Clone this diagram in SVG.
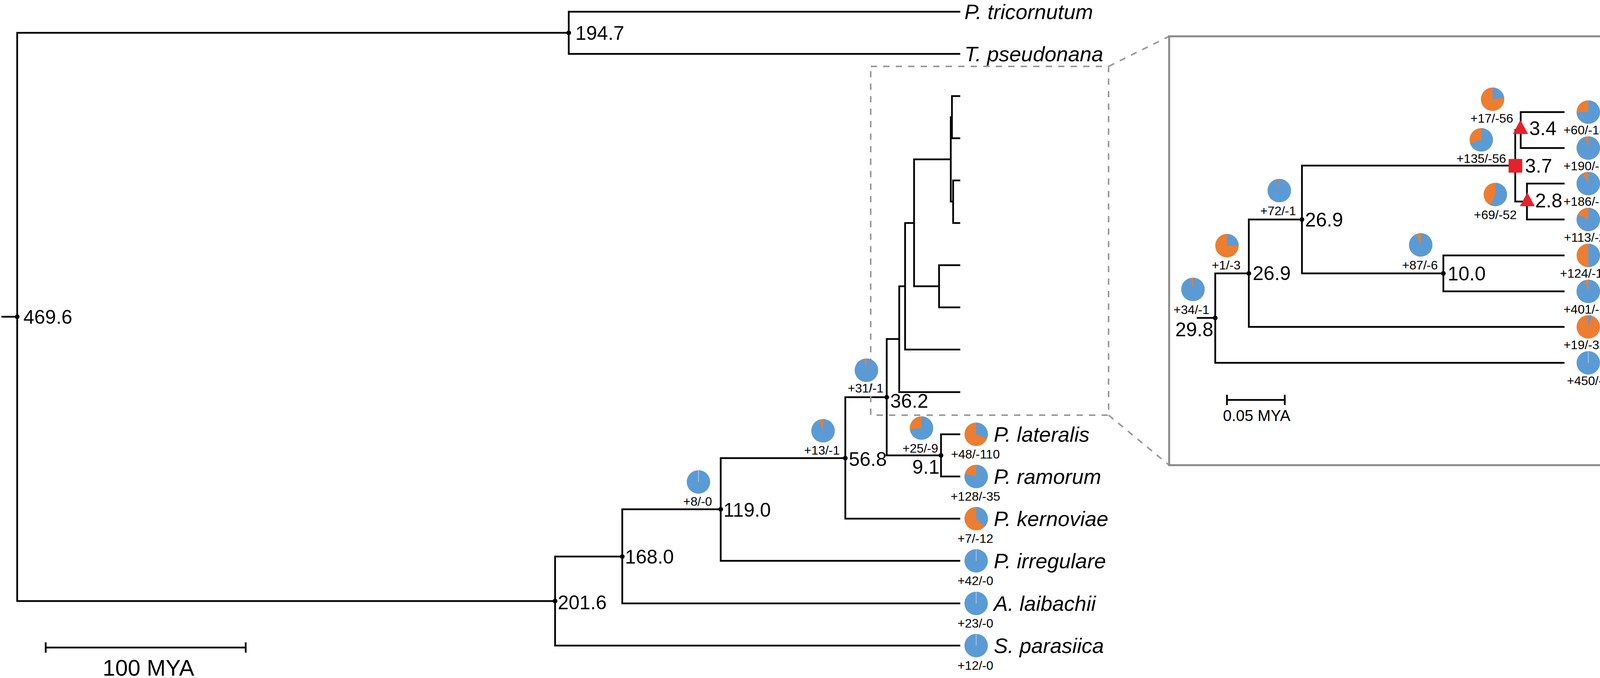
<svg xmlns="http://www.w3.org/2000/svg" width="4561" height="1736" viewBox="0 0 4561 1736">
<style>
text{font-family:"Liberation Sans",Arial,sans-serif;fill:#000}
.nl{font-size:50px}
.tl{font-size:54px;font-style:italic}
.il{font-size:54px}
.ii{font-size:54px;font-style:italic}
.ct{font-size:32px;text-anchor:middle}
.sc{font-size:58px;text-anchor:middle}
.br{fill:none;stroke:#000;stroke-width:4.5;stroke-linecap:square}
.bl{fill:#5B9BD5}
.or{fill:#ED7D31}
.sep{stroke:#A9C8EC;stroke-width:2}
.dot{fill:#000}
.red{fill:#E8202A}
.dash{fill:none;stroke:#999;stroke-width:4;stroke-dasharray:16 16}
</style>
<rect width="4561" height="1736" fill="#fff"/>
<g id="connectors">
<path class="br" d="M6,811 H44 M44,84 V1539 M44,84 H1456 M1456,30 V138 M1456,30 H2456 M1456,138 H2456 M44,1539 H1421 M1421,1425 V1653 M1421,1653 H2456 M1421,1425 H1593 M1593,1304 V1545 M1593,1545 H2456 M1593,1304 H1845 M1845,1173 V1436 M1845,1436 H2456 M1845,1173 H2164 M2164,1017 V1328 M2164,1328 H2456 M2164,1017 H2270 M2270,868 V1166 M2270,1166 H2409 M2409,1112 V1220 M2409,1112 H2456 M2409,1220 H2456 M2270,868 H2302 M2302,733 V1004 M2302,1004 H2456 M2302,733 H2317 M2317,571 V895 M2317,895 H2456 M2317,571 H2340 M2340,408 V733 M2340,733 H2404 M2404,679 V787 M2404,679 H2456 M2404,787 H2456 M2340,408 H2434 M2434,300 V516 M2434,300 H2437 M2437,246 V354 M2437,246 H2456 M2437,354 H2456 M2434,516 H2440 M2440,462 V571 M2440,462 H2456 M2440,571 H2456"/>
<path class="br" d="M3066,814 H3111 M3111,700 V929 M3111,929 H4003 M3111,700 H3197 M3197,562 V837 M3197,837 H4003 M3197,562 H3333 M3333,424 V700 M3333,700 H3695 M3695,654 V746 M3695,654 H4003 M3695,746 H4003 M3333,424 H3879 M3879,333 V516 M3879,333 H3893 M3893,287 V379 M3893,287 H4003 M3893,379 H4003 M3879,516 H3909 M3909,470 V562 M3909,470 H4003 M3909,562 H4003"/>
<rect class="dash" x="2229" y="170" width="609" height="893"/>
<path class="dash" d="M2838,170 L2993,93 M2838,1063 L2993,1191"/>
<rect x="2993" y="93" width="1558" height="1098" fill="none" stroke="#8A8A8A" stroke-width="5"/>
<path class="br" d="M117,1658 H629 M117,1647 V1669 M629,1647 V1669"/>
<path class="br" d="M3141,1024 H3289 M3141,1013 V1035 M3289,1013 V1035"/>
</g>
<g id="scale-main"><text class="sc" x="380" y="1730">100 MYA</text></g>
<g id="scale-inset"><text x="3217" y="1078" style="font-size:40px;text-anchor:middle">0.05 MYA</text></g>

<g id="node-root"><circle class="dot" cx="44" cy="811" r="6"/><text class="nl" x="60" y="829">469.6</text></g>
<g id="node-194"><circle class="dot" cx="1456" cy="84" r="6"/><text class="nl" x="1473" y="102">194.7</text></g>
<g id="node-201"><circle class="dot" cx="1421" cy="1539" r="6"/><text class="nl" x="1428" y="1560">201.6</text></g>
<g id="node-168"><circle class="dot" cx="1593" cy="1425" r="6"/><text class="nl" x="1600" y="1443">168.0</text></g>
<g id="node-119"><circle class="dot" cx="1845" cy="1304" r="6"/><text class="nl" x="1852" y="1323">119.0</text>
<g transform="translate(1788,1234)"><circle r="30" class="bl"/><line class="sep" x1="0" y1="0" x2="0" y2="-30"/></g><text class="ct" x="1786" y="1295">+8/-0</text></g>
<g id="node-56"><circle class="dot" cx="2164" cy="1173" r="6"/><text class="nl" x="2173" y="1193">56.8</text>
<g transform="translate(2107,1103)"><circle r="30" class="or"/><path class="bl" d="M0,0 L0,-30 A30,30 0 1 1 -9.27,-28.53 Z"/></g><text class="ct" x="2104" y="1164">+13/-1</text></g>
<g id="node-36"><circle class="dot" cx="2270" cy="1017" r="6"/><text class="nl" x="2279" y="1044">36.2</text>
<g transform="translate(2218,948)"><circle r="30" class="or"/><path class="bl" d="M0,0 L0,-30 A30,30 0 1 1 -5.62,-29.47 Z"/></g><text class="ct" x="2216" y="1005">+31/-1</text></g>
<g id="node-9"><circle class="dot" cx="2409" cy="1166" r="6"/><text class="nl" x="2405" y="1213" text-anchor="end">9.1</text>
<g transform="translate(2359,1096)"><circle r="30" class="or"/><path class="bl" d="M0,0 L0,-30 A30,30 0 1 1 -29.87,2.82 Z"/></g><text class="ct" x="2356" y="1159">+25/-9</text></g>

<g id="tip-tricornutum"><text class="tl" x="2469" y="49">P. tricornutum</text></g>
<g id="tip-pseudonana"><text class="tl" x="2469" y="157">T. pseudonana</text></g>
<g id="tip-lateralis"><g transform="translate(2499,1112)"><circle r="30" class="or"/><path class="bl" d="M0,0 L0,-30 A30,30 0 0 1 27.89,11.04 Z"/></g><text class="ct" x="2497" y="1174">+48/-110</text><text class="tl" x="2544" y="1131">P. lateralis</text></g>
<g id="tip-ramorum"><g transform="translate(2499,1220)"><circle r="30" class="or"/><path class="bl" d="M0,0 L0,-30 A30,30 0 1 1 -29.28,-6.54 Z"/></g><text class="ct" x="2497" y="1282">+128/-35</text><text class="tl" x="2544" y="1239">P. ramorum</text></g>
<g id="tip-kernoviae"><g transform="translate(2499,1328)"><circle r="30" class="or"/><path class="bl" d="M0,0 L0,-30 A30,30 0 0 1 21.87,20.54 Z"/></g><text class="ct" x="2497" y="1390">+7/-12</text><text class="tl" x="2544" y="1347">P. kernoviae</text></g>
<g id="tip-irregulare"><g transform="translate(2499,1436)"><circle r="30" class="bl"/><line class="sep" x1="0" y1="0" x2="0" y2="-30"/></g><text class="ct" x="2497" y="1498">+42/-0</text><text class="tl" x="2544" y="1455">P. irregulare</text></g>
<g id="tip-laibachii"><g transform="translate(2499,1545)"><circle r="30" class="bl"/><line class="sep" x1="0" y1="0" x2="0" y2="-30"/></g><text class="ct" x="2497" y="1607">+23/-0</text><text class="tl" x="2544" y="1564">A. laibachii</text></g>
<g id="tip-parasiica"><g transform="translate(2499,1653)"><circle r="30" class="bl"/><line class="sep" x1="0" y1="0" x2="0" y2="-30"/></g><text class="ct" x="2497" y="1715">+12/-0</text><text class="tl" x="2544" y="1672">S. parasiica</text></g>

<g id="inode-29"><circle class="dot" cx="3111" cy="814" r="6"/><text class="nl" x="3106" y="861" text-anchor="end">29.8</text>
<g transform="translate(3054,741)"><circle r="30" class="or"/><path class="bl" d="M0,0 L0,-30 A30,30 0 1 1 -5.62,-29.47 Z"/></g><text class="ct" x="3050" y="804">+34/-1</text></g>
<g id="inode-26a"><circle class="dot" cx="3197" cy="700" r="6"/><text class="nl" x="3207" y="717">26.9</text>
<g transform="translate(3141,629)"><circle r="30" class="or"/><path class="bl" d="M0,0 L0,-30 A30,30 0 0 1 30,0 Z"/></g><text class="ct" x="3139" y="690">+1/-3</text></g>
<g id="inode-26b"><circle class="dot" cx="3333" cy="562" r="6"/><text class="nl" x="3341" y="580">26.9</text>
<g transform="translate(3275,488)"><circle r="30" class="or"/><path class="bl" d="M0,0 L0,-30 A30,30 0 1 1 -2.82,-29.87 Z"/></g><text class="ct" x="3272" y="551">+72/-1</text></g>
<g id="inode-10"><circle class="dot" cx="3695" cy="700" r="6"/><text class="nl" x="3706" y="718">10.0</text>
<g transform="translate(3637,627)"><circle r="30" class="or"/><path class="bl" d="M0,0 L0,-30 A30,30 0 1 1 -11.04,-27.89 Z"/></g><text class="ct" x="3635" y="690">+87/-6</text></g>
<g id="inode-3-7"><rect class="red" x="3862" y="407" width="35" height="35"/><text class="nl" x="3904" y="442">3.7</text>
<g transform="translate(3792,358)"><circle r="30" class="or"/><path class="bl" d="M0,0 L0,-30 A30,30 0 1 1 -28.53,9.27 Z"/></g><text class="ct" x="3792" y="417">+135/-56</text></g>
<g id="inode-3-4"><path class="red" d="M3892,307 L3912,343 L3873,343 Z"/><text class="nl" x="3915" y="346">3.4</text>
<g transform="translate(3821,254)"><circle r="30" class="or"/><path class="bl" d="M0,0 L0,-30 A30,30 0 0 1 29.76,-3.76 Z"/></g><text class="ct" x="3819" y="314">+17/-56</text></g>
<g id="inode-2-8"><path class="red" d="M3910,493 L3929,528 L3891,528 Z"/><text class="nl" x="3930" y="531">2.8</text>
<g transform="translate(3828,498)"><circle r="30" class="or"/><path class="bl" d="M0,0 L0,-30 A30,30 0 1 1 -12.77,27.14 Z"/></g><text class="ct" x="3828" y="561">+69/-52</text></g>

<g id="itip-LT1534"><g transform="translate(4066,287)"><circle r="30" class="or"/><path class="bl" d="M0,0 L0,-30 A30,30 0 1 1 -30,0 Z"/></g><text class="ct" x="4066" y="344">+60/-181</text><text class="il" x="4136" y="306">LT1534</text></g>
<g id="itip-MY1"><g transform="translate(4066,379)"><circle r="30" class="or"/><path class="bl" d="M0,0 L0,-30 A30,30 0 1 1 -9.27,-28.53 Z"/></g><text class="ct" x="4066" y="436">+190/-12</text><text class="il" x="4136" y="398">MY-1</text></g>
<g id="itip-JHAI1-7"><g transform="translate(4066,470)"><circle r="30" class="or"/><path class="bl" d="M0,0 L0,-30 A30,30 0 1 1 -14.45,-26.29 Z"/></g><text class="ct" x="4066" y="527">+186/-16</text><text class="il" x="4136" y="489">JHAI1-7</text></g>
<g id="itip-KPC7"><g transform="translate(4066,562)"><circle r="30" class="or"/><path class="bl" d="M0,0 L0,-30 A30,30 0 1 1 -27.14,-12.77 Z"/></g><text class="ct" x="4066" y="619">+113/-24</text><text class="il" x="4136" y="581">KPC-7</text></g>
<g id="itip-infestans"><g transform="translate(4066,654)"><circle r="30" class="or"/><path class="bl" d="M0,0 L0,-30 A30,30 0 0 1 0,30 Z"/></g><text class="ct" x="4066" y="711">+124/-121</text><text class="ii" x="4136" y="673">P. infestans</text></g>
<g id="itip-parasitica"><g transform="translate(4066,746)"><circle r="30" class="or"/><path class="bl" d="M0,0 L0,-30 A30,30 0 1 1 -9.27,-28.53 Z"/></g><text class="ct" x="4066" y="803">+401/-20</text><text class="ii" x="4136" y="765">P. parasitica</text></g>
<g id="itip-arabidopsidis"><g transform="translate(4066,837)"><circle r="30" class="or"/><path class="bl" d="M0,0 L0,-30 A30,30 0 0 1 9.27,-28.53 Z"/></g><text class="ct" x="4066" y="894">+19/-339</text><text class="ii" x="4136" y="856">H. arabidopsidis</text></g>
<g id="itip-sojae"><g transform="translate(4066,929)"><circle r="30" class="bl"/><line class="sep" x1="0" y1="0" x2="0" y2="-30"/></g><text class="ct" x="4066" y="986">+450/-2</text><text class="ii" x="4136" y="948">P. sojae</text></g>
</svg>
